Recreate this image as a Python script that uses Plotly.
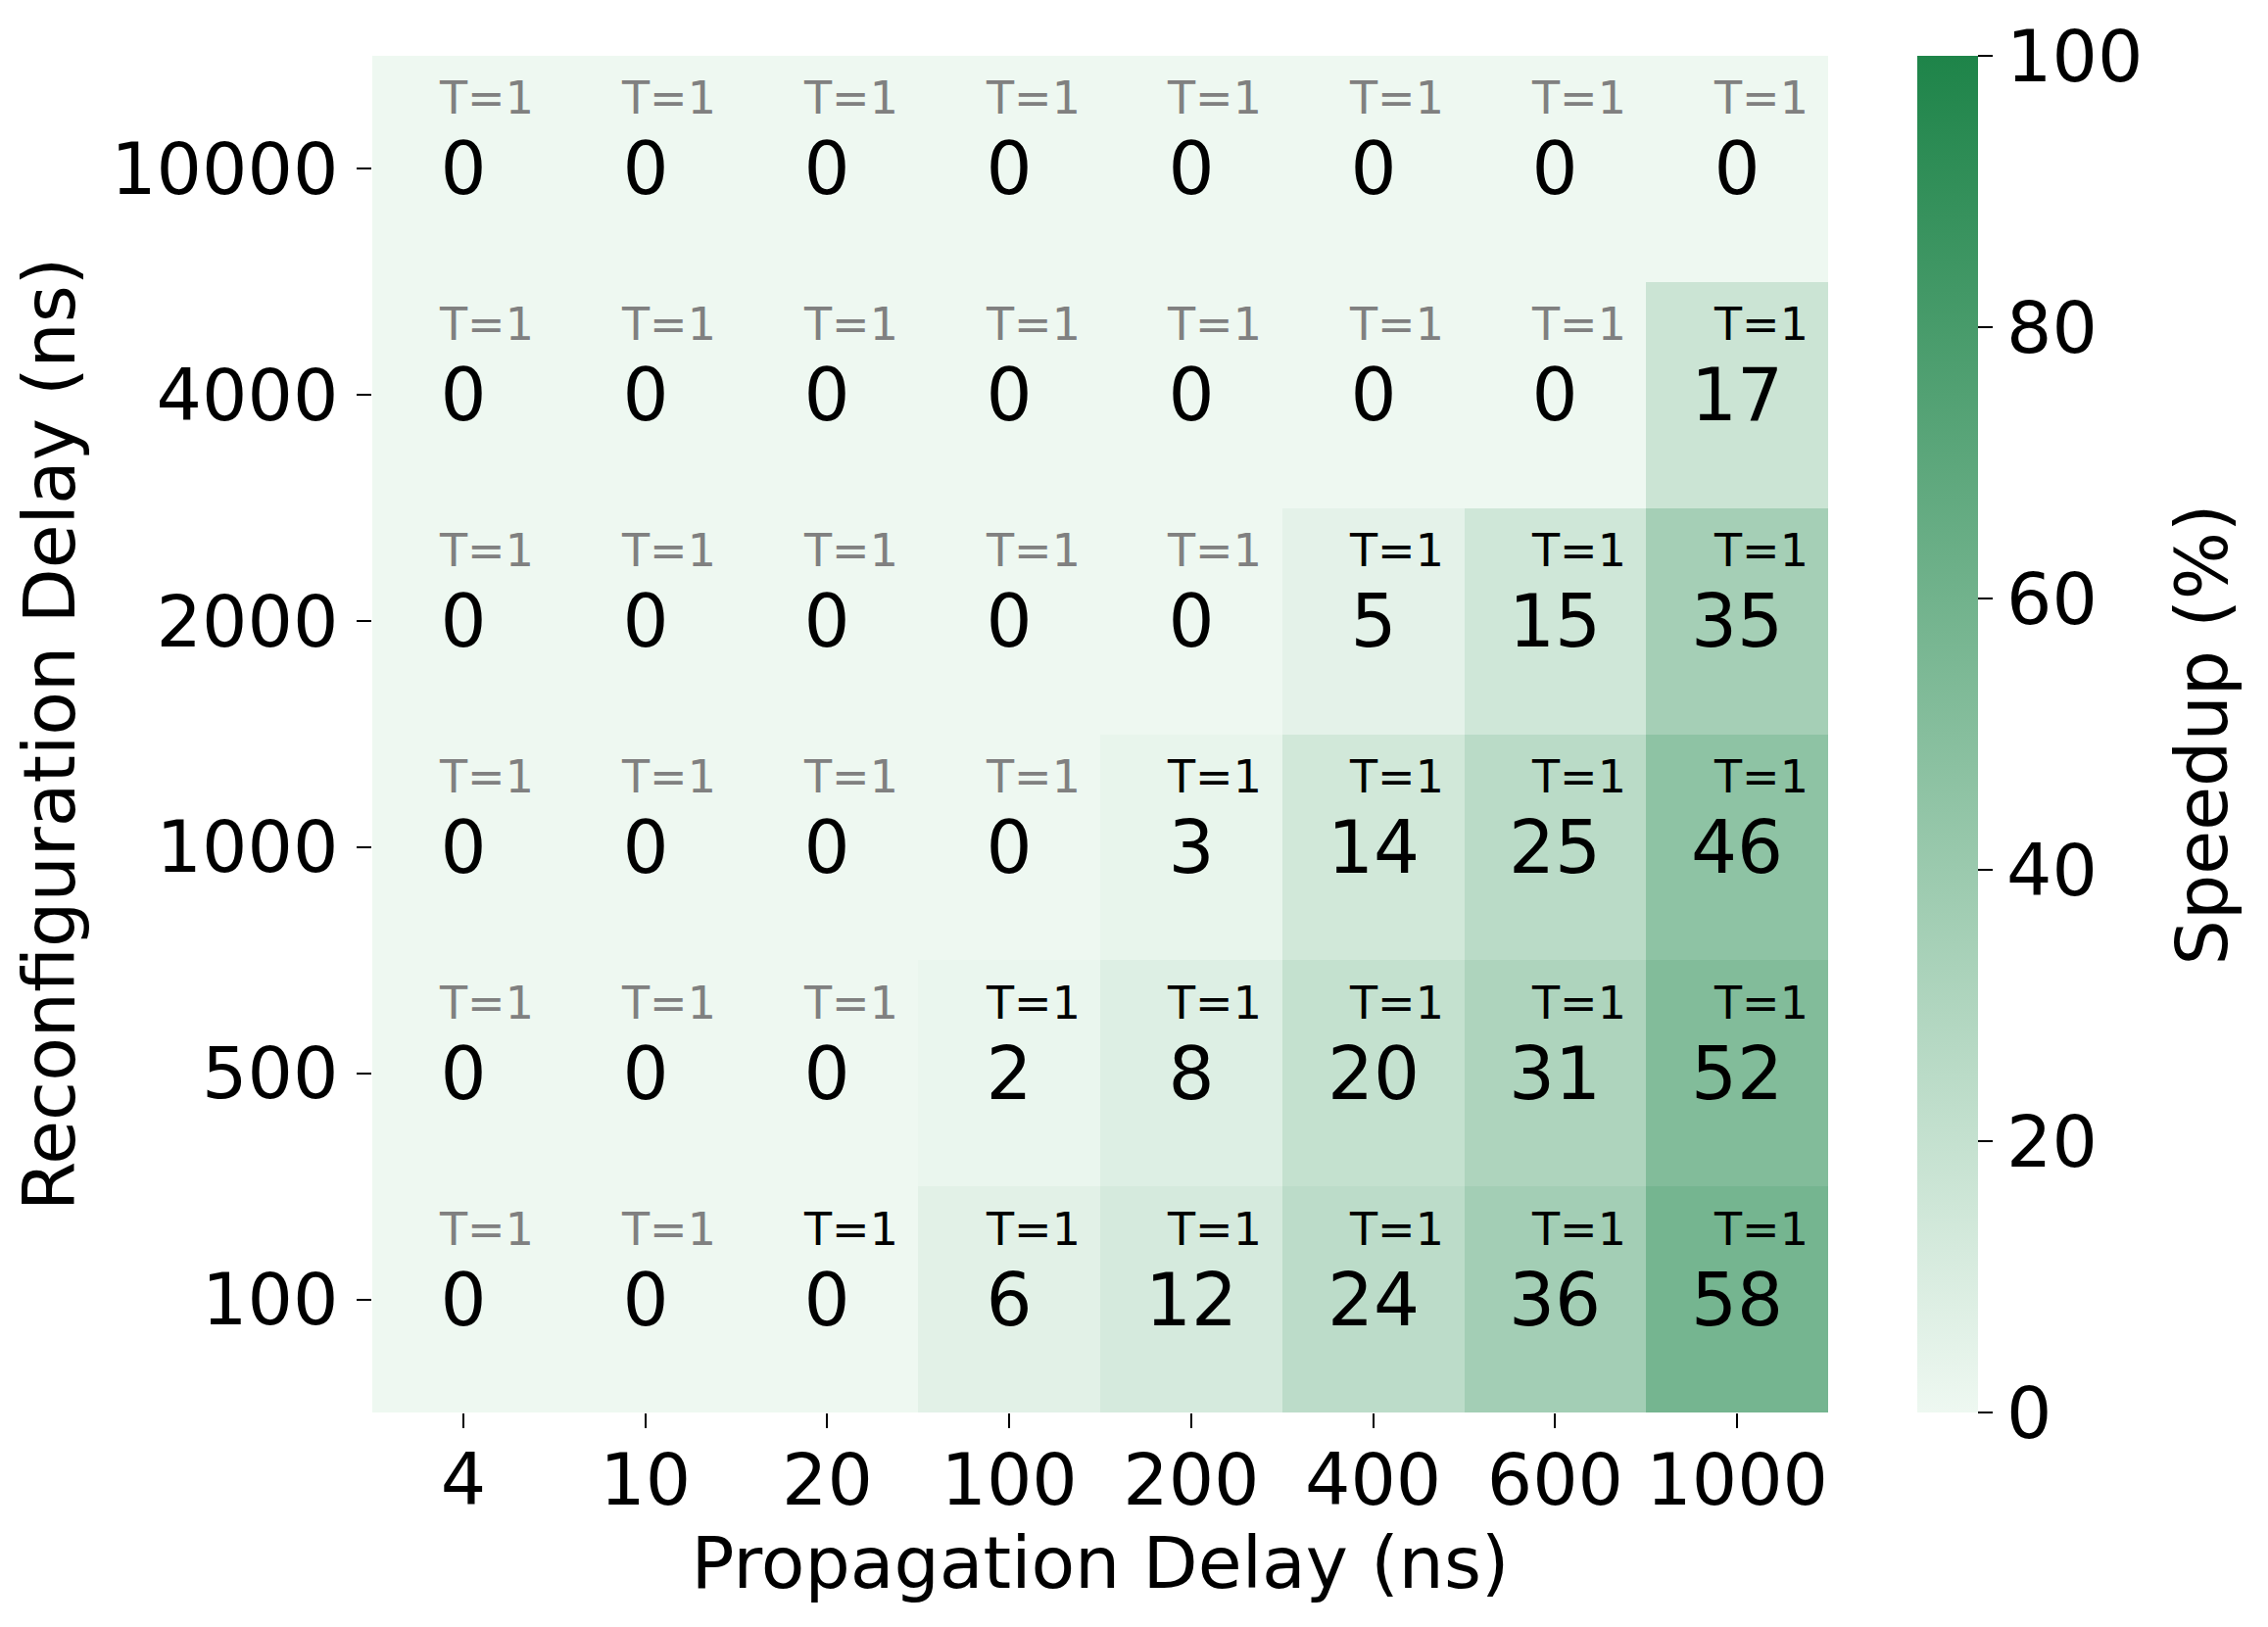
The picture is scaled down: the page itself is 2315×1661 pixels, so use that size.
import plotly.graph_objects as go

prop_delays = ["4", "10", "20", "100", "200", "400", "600", "1000"]
reconf_delays = ["100", "500", "1000", "2000", "4000", "10000"]  # bottom -> top

# speedup (%) per row of reconf_delays, columns follow prop_delays
speedup = [
    [0, 0, 0, 6, 12, 24, 36, 58],   # 100
    [0, 0, 0, 2, 8, 20, 31, 52],    # 500
    [0, 0, 0, 0, 3, 14, 25, 46],    # 1000
    [0, 0, 0, 0, 0, 5, 15, 35],     # 2000
    [0, 0, 0, 0, 0, 0, 0, 17],      # 4000
    [0, 0, 0, 0, 0, 0, 0, 0],       # 10000
]

# which "T=1" labels are drawn dark (1) or grey (0)
t_dark = [
    [0, 0, 1, 1, 1, 1, 1, 1],
    [0, 0, 0, 1, 1, 1, 1, 1],
    [0, 0, 0, 0, 1, 1, 1, 1],
    [0, 0, 0, 0, 0, 1, 1, 1],
    [0, 0, 0, 0, 0, 0, 0, 1],
    [0, 0, 0, 0, 0, 0, 0, 0],
]
t_label = "T=1"
cbar_ticks = [0, 20, 40, 60, 80, 100]

FONT = "DejaVu Sans"
SIZE = 73

fig = go.Figure(go.Heatmap(
    x=prop_delays,
    y=reconf_delays,
    z=speedup,
    zmin=0, zmax=100,
    colorscale=[[0, "#EEF8F1"], [1, "#1E8449"]],
    texttemplate="%{z}",
    textfont=dict(family=FONT, size=74, color="black"),
    hoverinfo="skip",
    colorbar=dict(
        x=1.0612, xanchor="left", xref="paper", xpad=0, ypad=0,
        y=0, yanchor="bottom", len=1, lenmode="fraction",
        thickness=62, thicknessmode="pixels",
        outlinewidth=0,
        ticks="outside", ticklen=15, tickwidth=2, tickcolor="black",
        tickvals=cbar_ticks,
        tickfont=dict(family=FONT, size=SIZE, color="black"),
    ),
))

# category axes: annotations use the category index
for i, r in enumerate(reconf_delays):
    for j, p in enumerate(prop_delays):
        fig.add_annotation(
            x=j, y=i, xref="x", yref="y", text=t_label, showarrow=False,
            xshift=24, yshift=72,
            font=dict(family=FONT, size=46, color="black" if t_dark[i][j] else "#808080"),
        )

# colorbar title
fig.add_annotation(
    x=1.257, y=0.5, xref="paper", yref="paper", text="Speedup (%)",
    textangle=-90, showarrow=False, xanchor="center", yanchor="middle",
    font=dict(family=FONT, size=SIZE, color="black"),
)

fig.update_xaxes(
    type="category", categoryorder="array", categoryarray=prop_delays,
    range=[-0.5, len(prop_delays) - 0.5],
    ticks="outside", ticklen=15, tickwidth=2, tickcolor="black",
    ticklabelstandoff=-10,
    tickfont=dict(family=FONT, size=SIZE, color="black"),
    title=dict(text="Propagation Delay (ns)", font=dict(family=FONT, size=SIZE, color="black"), standoff=12),
    showgrid=False, zeroline=False, showline=False,
)
fig.update_yaxes(
    type="category", categoryorder="array", categoryarray=reconf_delays,
    range=[-0.5, len(reconf_delays) - 0.5],
    ticks="outside", ticklen=15, tickwidth=2, tickcolor="black",
    ticklabelstandoff=4,
    tickfont=dict(family=FONT, size=SIZE, color="black"),
    title=dict(text="Reconfiguration Delay (ns)", font=dict(family=FONT, size=SIZE, color="black"), standoff=16),
    showgrid=False, zeroline=False, showline=False,
)
fig.update_layout(
    width=2315, height=1661,
    margin=dict(l=372, r=457, t=49, b=227, autoexpand=False),
    paper_bgcolor="white", plot_bgcolor="white",
    font=dict(family=FONT, color="black"),
)

fig.write_html("out.html")
